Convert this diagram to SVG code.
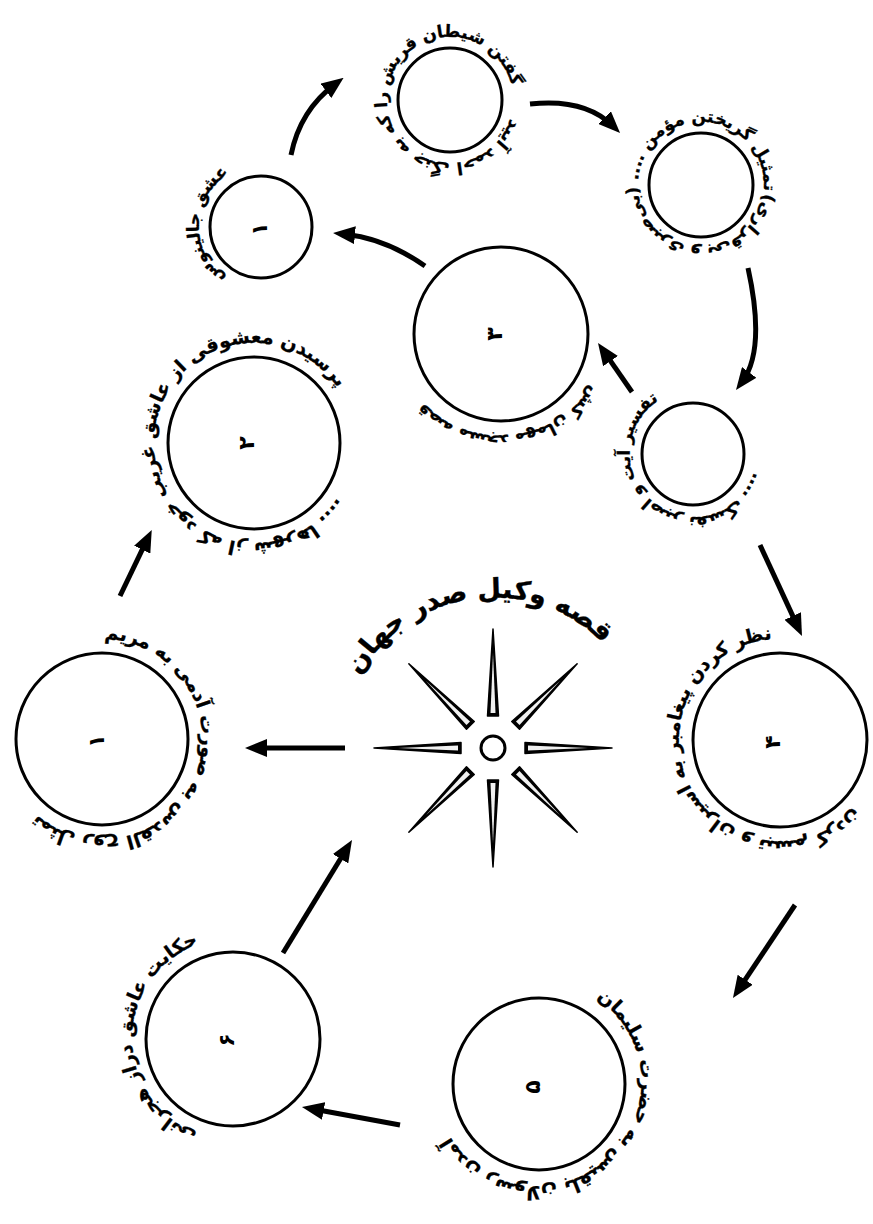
<svg xmlns="http://www.w3.org/2000/svg" xmlns:xlink="http://www.w3.org/1999/xlink" width="873" height="1224" viewBox="0 0 873 1224">
<style>
.c{fill:#fff;stroke:#000;stroke-width:3}
.t{font-family:"DejaVu Sans",sans-serif;font-weight:bold;font-size:19px;fill:#000;stroke:#000;stroke-width:0.3;direction:rtl}
.ts{font-size:17px}
.n{font-family:"DejaVu Sans",sans-serif;font-weight:bold;font-size:22px;fill:#000;text-anchor:middle;dominant-baseline:central}
.a{fill:none;stroke:#000;stroke-width:5;marker-end:url(#ah)}
.title{font-family:"DejaVu Sans",sans-serif;font-weight:bold;font-size:27px;fill:#000;stroke:#000;stroke-width:0.4;direction:rtl}
</style>
<defs>
<marker id="ah" viewBox="0 0 22 18" refX="12" refY="9" markerWidth="22" markerHeight="18" markerUnits="userSpaceOnUse" orient="auto">
<path d="M0,0 L22,9 L0,18 z" fill="#000"/>
</marker>
<g id="spike">
<polygon points="-5.5,-32 5.5,-32 0,-119" fill="#000" stroke="#000" stroke-width="1.5" stroke-linejoin="round"/>
<polygon points="-2.5,-35 2.5,-35 0,-95" fill="#f0f0f0"/>
</g>
<path id="p1" d="M8.6,703.2 A100,100 0 1 1 195.4,774.8 A100,100 0 1 1 8.6,703.2"/>
<path id="p2" d="M354,443 A100,100 0 1 1 154,443 A100,100 0 1 1 354,443"/>
<path id="p3" d="M490.4,233.6 A101,101 0 1 1 511.6,434.4 A101,101 0 1 1 490.4,233.6"/>
<path id="p4" d="M323,229.2 A62,62 0 1 1 199,224.8 A62,62 0 1 1 323,229.2"/>
<path id="p5" d="M513,102.2 A63,63 0 1 1 387,97.8 A63,63 0 1 1 513,102.2"/>
<path id="p6" d="M763.6,192.1 A63,63 0 1 1 638.4,177.9 A63,63 0 1 1 763.6,192.1"/>
<path id="p7" d="M730.3,404.5 A62,62 0 1 1 655.7,503.5 A62,62 0 1 1 730.3,404.5"/>
<path id="p8" d="M870.8,695.7 A101,101 0 1 1 689.2,784.3 A101,101 0 1 1 870.8,695.7"/>
<path id="p9" d="M470.2,1011.5 A100,100 0 1 1 607.8,1156.5 A100,100 0 1 1 470.2,1011.5"/>
<path id="p10" d="M334,1039.9 A101,101 0 1 1 132,1038.1 A101,101 0 1 1 334,1039.9"/>
<path id="pt" d="M512.6,896.7 A150,150 0 1 1 473.4,599.3 A150,150 0 1 1 512.6,896.7"/>
</defs>
<rect width="873" height="1224" fill="#fff"/>

<g id="center">
<use href="#spike" transform="translate(493,748)"/>
<use href="#spike" transform="translate(493,748) rotate(45)"/>
<use href="#spike" transform="translate(493,748) rotate(90)"/>
<use href="#spike" transform="translate(493,748) rotate(135)"/>
<use href="#spike" transform="translate(493,748) rotate(180)"/>
<use href="#spike" transform="translate(493,748) rotate(225)"/>
<use href="#spike" transform="translate(493,748) rotate(270)"/>
<use href="#spike" transform="translate(493,748) rotate(315)"/>
<circle cx="493" cy="748" r="12" class="c"/>
<text class="title"><textPath href="#pt" startOffset="50%" text-anchor="middle">قصه وکیل صدر جهان</textPath></text>
</g>

<g id="connectors">
<path class="a" d="M345,748 L255,748"/>
<path class="a" d="M120,596 L147.4,538.9"/>
<path class="a" d="M425,266 Q385,238 343,234"/>
<path class="a" d="M291,155 Q300,110 335.6,83.7"/>
<path class="a" d="M530,104 Q585,98 613,126"/>
<path class="a" d="M748,268 Q766,350 742,382"/>
<path class="a" d="M632,392 L603.7,351.2"/>
<path class="a" d="M760,545 L797.8,626.9"/>
<path class="a" d="M795,905 L738.5,989.7"/>
<path class="a" d="M400,1125 L311.8,1108.8"/>
<path class="a" d="M283,953 L346.8,848.5"/>
</g>

<g id="node1">
<circle cx="102" cy="739" r="86" class="c"/>
<text class="n" transform="translate(96,741) rotate(-90)">۱</text>
<text class="t"><textPath href="#p1" startOffset="50%" text-anchor="middle">تمثل روح القدس به صورت آدمی به مریم</textPath></text>
</g>
<g id="node2">
<circle cx="254" cy="443" r="86" class="c"/>
<text class="n" transform="translate(246,443) rotate(-90)">۲</text>
<text class="t"><textPath href="#p2" startOffset="50%" text-anchor="middle">پرسیدن معشوقی از عاشق غریب خود که از شهرها ....</textPath></text>
</g>
<g id="node3">
<circle cx="501" cy="334" r="87" class="c"/>
<text class="n" transform="translate(494,334) rotate(-90)">۳</text>
<text class="t ts"><textPath href="#p3" startOffset="50%" text-anchor="middle">قصه مسجد مهمان کش</textPath></text>
</g>
<g id="node4">
<circle cx="261" cy="227" r="51" class="c"/>
<text class="n" transform="translate(259,229) rotate(-90)">۱</text>
<text class="t ts"><textPath href="#p4" startOffset="50%" text-anchor="middle">عشق جالینوس</textPath></text>
</g>
<g id="node5">
<circle cx="450" cy="100" r="52" class="c"/>
<text class="t ts"><textPath href="#p5" startOffset="50%" text-anchor="middle">گفتن شیطان قریش را که به جنگ احمد آیید</textPath></text>
</g>
<g id="node6">
<circle cx="701" cy="185" r="52" class="c"/>
<text class="t ts"><textPath href="#p6" startOffset="50%" text-anchor="middle">تمثیل گریختن مؤمن .... (بی‌صبری و بی‌قراری)</textPath></text>
</g>
<g id="node7">
<circle cx="693" cy="454" r="51" class="c"/>
<text class="t ts"><textPath href="#p7" startOffset="50%" text-anchor="middle">تفسیر آیت و اصبر نفسک ....</textPath></text>
</g>
<g id="node8">
<circle cx="780" cy="740" r="87" class="c"/>
<text class="n" transform="translate(772,742) rotate(-90)">۴</text>
<text class="t"><textPath href="#p8" startOffset="50%" text-anchor="middle">نظر کردن پیغامبر به اسیران و تبسم کردن</textPath></text>
</g>
<g id="node9">
<circle cx="539" cy="1084" r="86" class="c"/>
<text class="n" transform="translate(532,1087) rotate(-90)">۵</text>
<text class="t"><textPath href="#p9" startOffset="50%" text-anchor="middle">آمدن رسولان بلقیس به حضرت سلیمان</textPath></text>
</g>
<g id="node10">
<circle cx="233" cy="1039" r="87" class="c"/>
<text class="n" transform="translate(226,1040) rotate(-90)">۶</text>
<text class="t"><textPath href="#p10" startOffset="50%" text-anchor="middle">حکایت عاشق دراز هجرانی</textPath></text>
</g>
</svg>
